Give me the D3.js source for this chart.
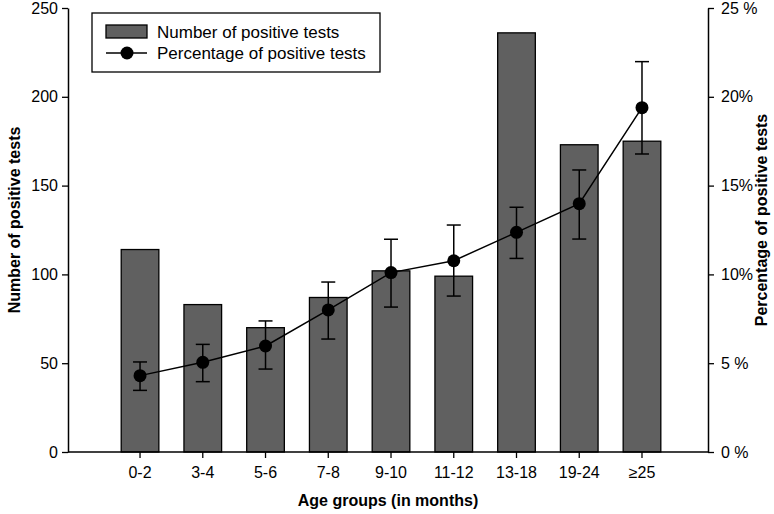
<!DOCTYPE html>
<html>
<head>
<meta charset="utf-8">
<script src="https://cdn.jsdelivr.net/npm/d3@7"></script>
<style>
  body { margin: 0; background: #fff; }
  text { font-family: Arial, "Liberation Sans", sans-serif; }
</style>
</head>
<body>
<div id="chart"></div>
<script>
const ageGroups = ["0-2", "3-4", "5-6", "7-8", "9-10", "11-12", "13-18", "19-24", "≥25"];
const positiveCounts = [114, 83, 70, 87, 102, 99, 236, 173, 175];
const positivePct = [4.3, 5.05, 5.97, 8.0, 10.1, 10.77, 12.37, 13.98, 19.39];
const pctLower = [3.47, 3.96, 4.67, 6.36, 8.16, 8.78, 10.9, 11.99, 16.78];
const pctUpper = [5.07, 6.06, 7.38, 9.57, 11.98, 12.78, 13.78, 15.88, 21.98];
const countTicks = [0, 50, 100, 150, 200, 250];
const pctTicks = [0, 5, 10, 15, 20, 25];
const pctTickLabels = ["0 %", "5 %", "10%", "15%", "20%", "25 %"];

const width = 774, height = 514;
const margin = { top: 8, right: 66, bottom: 62, left: 68 };

const svg = d3.select("#chart").append("svg")
  .attr("width", width)
  .attr("height", height);

const x = d3.scaleBand()
  .domain(ageGroups)
  .range([margin.left, width - margin.right])
  .paddingInner(0.4)
  .paddingOuter(0.8)
  .align(0.53);

const y = d3.scaleLinear()
  .domain([0, 250])
  .range([height - margin.bottom, margin.top]);

const yPct = d3.scaleLinear()
  .domain([0, 25])
  .range([height - margin.bottom, margin.top]);

const cx = d => x(d) + x.bandwidth() / 2;

// bars
svg.append("g")
  .selectAll("rect")
  .data(ageGroups)
  .join("rect")
    .attr("x", d => x(d))
    .attr("y", (d, i) => y(positiveCounts[i]))
    .attr("width", x.bandwidth())
    .attr("height", (d, i) => y(0) - y(positiveCounts[i]))
    .attr("fill", "#606060")
    .attr("stroke", "#000")
    .attr("stroke-width", 1.3);

// error bars
const err = svg.append("g").attr("stroke", "#000").attr("stroke-width", 1.5);
ageGroups.forEach((d, i) => {
  err.append("line")
    .attr("x1", cx(d)).attr("x2", cx(d))
    .attr("y1", yPct(pctLower[i])).attr("y2", yPct(pctUpper[i]));
  [pctLower[i], pctUpper[i]].forEach(v => {
    err.append("line")
      .attr("x1", cx(d) - 7).attr("x2", cx(d) + 7)
      .attr("y1", yPct(v)).attr("y2", yPct(v));
  });
});

// line + dots
const line = d3.line()
  .x((d, i) => cx(ageGroups[i]))
  .y(d => yPct(d));

svg.append("path")
  .datum(positivePct)
  .attr("fill", "none")
  .attr("stroke", "#000")
  .attr("stroke-width", 1.5)
  .attr("d", line);

svg.append("g")
  .selectAll("circle")
  .data(positivePct)
  .join("circle")
    .attr("cx", (d, i) => cx(ageGroups[i]))
    .attr("cy", d => yPct(d))
    .attr("r", 6.5)
    .attr("fill", "#000");

// axes
function styleAxis(g) {
  g.select(".domain").attr("stroke-width", 1.5);
  g.selectAll(".tick line").attr("stroke-width", 1.3);
  g.selectAll(".tick text").attr("font-size", 16).attr("fill", "#000");
}

svg.append("g")
  .attr("transform", `translate(0,${height - margin.bottom})`)
  .call(d3.axisBottom(x).tickSize(6).tickSizeOuter(0).tickPadding(9))
  .call(g => g.select(".domain").attr("d", `M${margin.left},0H${width - margin.right}`))
  .call(styleAxis);

svg.append("g")
  .attr("transform", `translate(${margin.left},0)`)
  .call(d3.axisLeft(y).tickValues(countTicks).tickSize(6).tickSizeOuter(0).tickPadding(4))
  .call(styleAxis);

svg.append("g")
  .attr("transform", `translate(${width - margin.right},0)`)
  .call(d3.axisRight(yPct).tickValues(pctTicks).tickSize(6).tickSizeOuter(0).tickPadding(7)
    .tickFormat((d, i) => pctTickLabels[i]))
  .call(styleAxis);

// axis titles
svg.append("text")
  .attr("x", (margin.left + width - margin.right) / 2)
  .attr("y", 506)
  .attr("text-anchor", "middle")
  .attr("font-size", 16)
  .attr("font-weight", "bold")
  .text("Age groups (in months)");

svg.append("text")
  .attr("transform", "translate(20,220) rotate(-90)")
  .attr("text-anchor", "middle")
  .attr("font-size", 16)
  .attr("font-weight", "bold")
  .text("Number of positive tests");

svg.append("text")
  .attr("transform", "translate(767,220) rotate(-90)")
  .attr("text-anchor", "middle")
  .attr("font-size", 16)
  .attr("font-weight", "bold")
  .text("Percentage of positive tests");

// legend
const legend = svg.append("g");
legend.append("rect")
  .attr("x", 92).attr("y", 13).attr("width", 288).attr("height", 59)
  .attr("fill", "#fff").attr("stroke", "#000").attr("stroke-width", 1.3);
legend.append("rect")
  .attr("x", 106).attr("y", 25).attr("width", 41).attr("height", 13)
  .attr("fill", "#606060").attr("stroke", "#000").attr("stroke-width", 1.3);
legend.append("line")
  .attr("x1", 106).attr("x2", 147).attr("y1", 53).attr("y2", 53)
  .attr("stroke", "#000").attr("stroke-width", 1.5);
legend.append("circle")
  .attr("cx", 127).attr("cy", 53).attr("r", 6.5).attr("fill", "#000");
legend.append("text")
  .attr("x", 157).attr("y", 38).attr("font-size", 17)
  .text("Number of positive tests");
legend.append("text")
  .attr("x", 157).attr("y", 59).attr("font-size", 17)
  .text("Percentage of positive tests");
</script>
</body>
</html>
